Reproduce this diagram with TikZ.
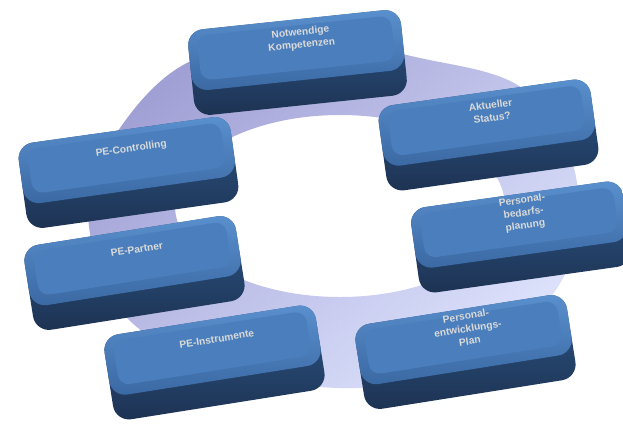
\documentclass[tikz,border=0pt]{standalone}
\usepackage{fontspec}
\setmainfont{Liberation Sans}
\definecolor{ringA}{HTML}{A0A0D5}
\definecolor{ringB}{HTML}{DDE2FC}
\definecolor{faceTop}{HTML}{5A90CE}
\definecolor{faceBot}{HTML}{3A68A2}
\definecolor{faceIn}{HTML}{4A7EBC}
\definecolor{sideTop}{HTML}{2D5788}
\definecolor{sideBot}{HTML}{1D3252}
\definecolor{txt}{HTML}{DADADA}
\tikzset{
  boxtext/.style={font=\bfseries\fontsize{10.2}{12.6}\selectfont, text=txt, align=center, inner sep=0pt},
  sideshape/.style={rounded corners=16pt, top color=sideTop, bottom color=sideBot},
  faceshape/.style={rounded corners=16pt, top color=faceTop, bottom color=faceBot},
  innershape/.style={rounded corners=11pt, fill=faceIn}
}
\newcommand\cyclebox[5]{%
  \begin{scope}[shift={(#2,#3)}, rotate=#4, transform shape]
    \path[sideshape] (-107,-43) rectangle (107,43);
    \path[faceshape] (-107,-43) rectangle (107,18);
    \path[innershape] (-97.5,-37) rectangle (97.5,8);
    \node[boxtext] (#1) at (6,-23) {#5};
  \end{scope}}
\begin{document}
\begin{tikzpicture}[x=1pt,y=-1pt]
  \fill[white] (0,0) rectangle (623,424);
  \useasboundingbox (0,0) rectangle (623,424);
  \path[even odd rule, top color=ringA, bottom color=ringB, shading angle=40]
    plot[smooth cycle, tension=0.6] coordinates {
      (88,215) (112,140) (185,64) (300,40) (420,58) (525,90) (576,177)
      (562,280) (470,366) (340,388) (205,362) (120,310)}
    (340,206) ellipse [x radius=165, y radius=91];
  \cyclebox{b1}{297.5}{62.5}{6}{Notwendige\\Kompetenzen}
  \cyclebox{b2}{488.5}{135}{8}{Aktueller\\Status?}
  \cyclebox{b3}{128.5}{172.5}{8}{PE-Controlling}
  \cyclebox{b4}{134.5}{273}{9}{PE-Partner}
  \cyclebox{b5}{521}{237}{8}{Personal-\\bedarfs-\\planung}
  \cyclebox{b6}{214.5}{362.5}{9}{PE-Instrumente}
  \cyclebox{b7}{465.5}{352}{9}{Personal-\\entwicklungs-\\Plan}
\end{tikzpicture}
\end{document}
